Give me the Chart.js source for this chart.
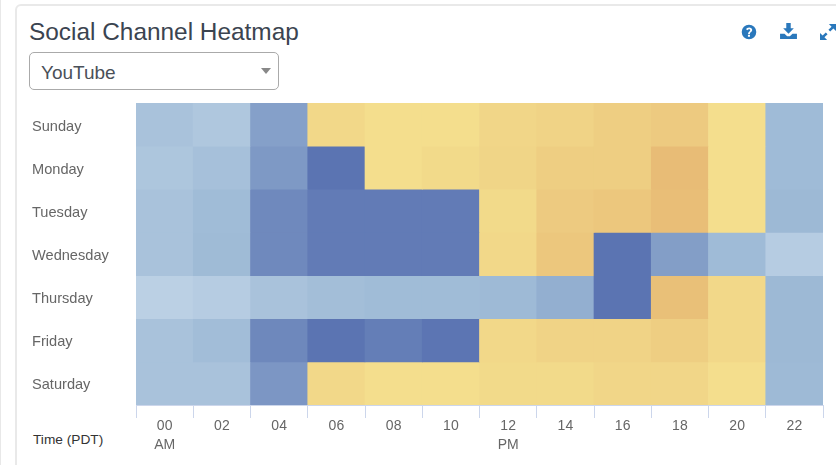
<!DOCTYPE html>
<html>
<head>
<meta charset="utf-8">
<title>Social Channel Heatmap</title>
<script src="https://cdn.jsdelivr.net/npm/chart.js@4"></script>
<style>
  html, body { margin: 0; padding: 0; background: #fff; overflow: hidden; }
  body { width: 836px; height: 465px; position: relative; font-family: "Liberation Sans", Arial, sans-serif; }
  #edge { position: absolute; left: 0; top: 0; width: 1px; height: 465px; background: #e8e8e8; }
  #card { position: absolute; left: 15px; top: 4px; width: 900px; height: 560px; border: 2px solid #e9e9e9; border-radius: 6px; box-sizing: border-box; }
  h1 { position: absolute; left: 29px; top: 17px; margin: 0; font-size: 24.4px; line-height: 30px; font-weight: 400; color: #3b4450; }
  #picker { position: absolute; left: 29px; top: 52px; width: 250px; height: 38px; box-sizing: border-box; border: 1px solid #aaa; border-radius: 5px; padding-left: 11px; font-size: 19px; line-height: 39px; color: #4a5058; }
  #picker i { position: absolute; right: 7px; top: 15px; border-left: 5.5px solid transparent; border-right: 5.5px solid transparent; border-top: 6px solid #888; }
  svg { position: absolute; fill: #2a78bc; }
  #time { position: absolute; left: 33px; top: 432px; font-size: 13.7px; line-height: 16px; color: #333; }
  #chart { position: absolute; left: 0; top: 0; }
</style>
</head>
<body>
<div id="edge"></div>
<div id="card"></div>
<h1>Social Channel Heatmap</h1>
<div id="picker">YouTube<i></i></div>
<svg style="left:741px;top:24px" width="16" height="16" viewBox="0 0 18 18"><path fill-rule="evenodd" d="M9 .8a8.2 8.2 0 1 0 0 16.4A8.2 8.2 0 0 0 9 .8zM7.900 11.200c-.1-2.600 2.500-2.800 2.500-4.300 0-.7-.6-1.100-1.300-1.100-.8 0-1.400.5-1.800 1.200L5.700 6c.6-1.300 1.800-2.100 3.500-2.100 1.900 0 3.400 1.100 3.400 2.900 0 2.300-2.700 2.500-2.600 4.400zM7.800 12.200h2.300v2.100H7.800z"/></svg>
<svg style="left:780px;top:23px" width="17" height="16" viewBox="0 0 19 18"><path d="M7 0h5v6h3.500L9.500 12 3.500 6H7z"/><path d="M0 12h5l3 3h3l3-3h5v6H0z"/></svg>
<svg style="left:820px;top:24px" width="16" height="16" viewBox="0 0 18 18"><path d="M10 0h8v8l-3-3-3.500 3.500-2-2L13 3z"/><path d="M8 18H0v-8l3 3 3.500-3.500 2 2L5 15z"/></svg>
<div id="time">Time (PDT)</div>
<canvas id="chart" width="836" height="465"></canvas>
<script>
const days = ['Sunday', 'Monday', 'Tuesday', 'Wednesday', 'Thursday', 'Friday', 'Saturday'];
const hourLabels = [['00', 'AM'], '02', '04', '06', '08', '10', ['12', 'PM'], '14', '16', '18', '20', '22'];

// heat per 2h slot: below 0 is the blue side, above 0 the yellow side
const sunday = [-28, -20, -64, 20, 3, 3, 25, 35, 50, 60, 3, -41];
const monday = [-22, -32, -70, -100, 3, 15, 30, 50, 50, 100, 3, -41];
const tuesday = [-28, -40, -83, -94, -94, -94, 15, 60, 70, 95, 3, -44];
const wednesday = [-28, -42, -83, -94, -94, -94, 20, 70, -100, -66, -41, -10];
const thursday = [-3, -10, -28, -36, -40, -40, -43, -52, -100, 90, 20, -44];
const friday = [-28, -38, -84, -100, -92, -99, 20, 35, 35, 50, 20, -44];
const saturday = [-28, -28, -72, 20, 3, 3, 15, 15, 25, 25, 3, -43];
const heat = [sunday, monday, tuesday, wednesday, thursday, friday, saturday];

function mix(a, b, t) {
  return 'rgb(' + a.map((v, i) => Math.round(v + (b[i] - v) * t)).join(',') + ')';
}
function heatColor(v) {
  if (v >= 0) return mix([244, 223, 142], [232, 188, 118], v / 100);
  if (v > -43) return mix([189, 210, 229], [158, 186, 214], -v / 43);
  return mix([158, 186, 214], [91, 116, 178], (-v - 43) / 57);
}

const ctx = document.getElementById('chart');

new Chart(ctx, {
  type: 'bar',
  data: {
    labels: hourLabels,
    datasets: days.map((day, i) => ({
      label: day,
      data: heat[i].map(() => 1),
      backgroundColor: heat[i].map(heatColor),
      borderWidth: 0,
      barPercentage: 1,
      categoryPercentage: 1,
      yAxisID: 'y',
    })),
  },
  options: {
    responsive: false,
    animation: false,
    layout: { padding: { top: 103, right: 13, bottom: 0, left: 32 } },
    scales: {
      x: {
        stacked: true,
        offset: true,
        grid: { drawOnChartArea: false, offset: true, tickLength: 13, tickColor: '#ccd6eb' },
        border: { color: '#ccd6eb' },
        ticks: {
          maxRotation: 0,
          autoSkip: false,
          padding: -1,
          color: '#666',
          font: { family: '"Liberation Sans"', size: 14, lineHeight: 1.35 },
        },
        afterFit: (scale) => { scale.height = 60; },
      },
      y: { stacked: true, reverse: true, min: 0, max: 7, display: false },
      yDays: {
        type: 'category',
        labels: days,
        position: 'left',
        offset: true,
        grid: { display: false },
        border: { display: false },
        ticks: {
          crossAlign: 'far',
          padding: 0,
          labelOffset: 2,
          color: '#666',
          font: { family: '"Liberation Sans"', size: 14.6 },
        },
        afterFit: (scale) => { scale.width = 104; },
      },
    },
    plugins: {
      legend: { display: false },
      tooltip: { enabled: false },
    },
  },
});
</script>
</body>
</html>
